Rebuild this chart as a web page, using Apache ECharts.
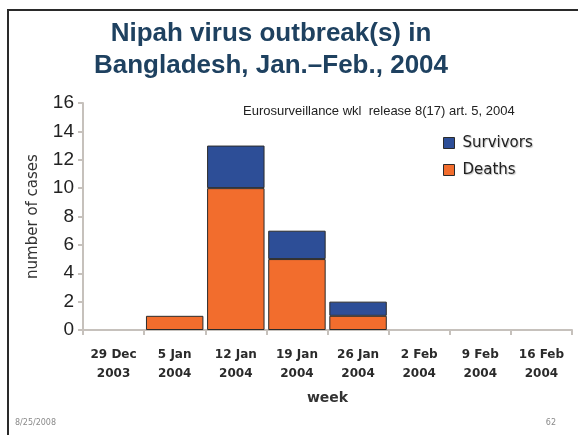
<!DOCTYPE html>
<html>
<head>
<meta charset="utf-8">
<script src="https://cdn.jsdelivr.net/npm/echarts@6/dist/echarts.min.js"></script>
<style>
  html, body { margin: 0; padding: 0; background: #fff; }
  #chart { width: 578px; height: 435px; }
</style>
</head>
<body>
<div id="chart"></div>
<script>
// Weekly Nipah virus cases, Bangladesh, Jan.–Feb. 2004
const weeks = ['29 Dec\n2003', '5 Jan\n2004', '12 Jan\n2004', '19 Jan\n2004',
               '26 Jan\n2004', '2 Feb\n2004', '9 Feb\n2004', '16 Feb\n2004'];
const deaths = [0, 1, 10, 5, 1, 0, 0, 0];
const survivors = [0, 0, 3, 2, 1, 0, 0, 0];
const yTicks = { min: 0, max: 16, interval: 2 };

const chart = echarts.init(document.getElementById('chart'), null, { renderer: 'canvas' });

const barStyle = (color) => ({ color: color, borderColor: '#2b2b2b', borderWidth: 1 });
// weeks without cases get no bar segment at all
const nonZero = (arr) => arr.map(v => (v === 0 ? '-' : v));

chart.setOption({
  animation: false,
  backgroundColor: '#ffffff',
  grid: { left: 83, right: 6, top: 103, bottom: 105, containLabel: false },
  legend: {
    data: ['Survivors', 'Deaths'],
    orient: 'vertical',
    left: 443,
    top: 134,
    padding: 0,
    itemWidth: 11,
    itemHeight: 11,
    itemGap: 9,
    icon: 'rect',
    itemStyle: { borderColor: '#2b2b2b', borderWidth: 1 },
    textStyle: {
      fontFamily: 'DejaVu Sans', fontSize: 15, color: '#222',
      lineHeight: 18, padding: [0, 0, 0, 3],
      textShadowColor: 'rgba(0,0,0,0.25)', textShadowOffsetX: 1, textShadowOffsetY: 1, textShadowBlur: 1
    }
  },
  xAxis: {
    type: 'category',
    data: weeks,
    name: 'week',
    nameLocation: 'middle',
    nameGap: 61,
    nameTextStyle: { fontFamily: 'DejaVu Sans', fontSize: 14, fontWeight: 'bold', color: '#333' },
    axisLine: { lineStyle: { color: '#c6c1bc', width: 2 } },
    axisTick: { show: true, alignWithLabel: false, length: 5, lineStyle: { color: '#c6c1bc', width: 2 } },
    axisLabel: {
      interval: 0, margin: 15, lineHeight: 19,
      fontFamily: 'DejaVu Sans', fontSize: 12, fontWeight: 'bold', color: '#2a2a2a'
    }
  },
  yAxis: {
    type: 'value',
    min: yTicks.min, max: yTicks.max, interval: yTicks.interval,
    name: 'number of cases',
    nameLocation: 'middle',
    nameGap: 42,
    nameRotate: 90,
    nameTextStyle: { fontFamily: 'DejaVu Sans', fontSize: 15, color: '#333' },
    splitLine: { show: false },
    axisLine: { show: true, lineStyle: { color: '#c6c1bc', width: 2 } },
    axisTick: { show: true, length: 5, lineStyle: { color: '#c6c1bc', width: 2 } },
    axisLabel: { margin: 9, fontFamily: 'Liberation Sans', fontSize: 19, color: '#222' }
  },
  series: [
    {
      name: 'Deaths', type: 'bar', stack: 'cases', data: nonZero(deaths),
      barCategoryGap: '6%',
      itemStyle: barStyle('#f26d2d')
    },
    {
      name: 'Survivors', type: 'bar', stack: 'cases', data: nonZero(survivors),
      barCategoryGap: '6%',
      itemStyle: barStyle('#2d4e97')
    }
  ],
  graphic: [
    // slide frame
    { type: 'polyline', shape: { points: [[8, 435], [8, 10], [578, 10]] },
      style: { stroke: '#2a2a2a', lineWidth: 2, fill: null }, silent: true },
    // heading
    { type: 'text', x: 271, y: 18,
      style: {
        text: 'Nipah virus outbreak(s) in\nBangladesh, Jan.–Feb., 2004',
        align: 'center', verticalAlign: 'top', lineHeight: 32,
        font: 'bold 26px "Liberation Sans", Arial, sans-serif',
        fill: '#1e4160',
        shadowColor: 'rgba(0,0,0,0.4)', shadowOffsetX: 2, shadowOffsetY: 2, shadowBlur: 2
      } },
    // source note
    { type: 'text', x: 243, y: 111,
      style: {
        text: 'Eurosurveillance wkl  release 8(17) art. 5, 2004',
        verticalAlign: 'middle',
        font: '13px "Liberation Sans", Arial, sans-serif', fill: '#222'
      } },
    // footer
    { type: 'text', x: 15, y: 423,
      style: { text: '8/25/2008', verticalAlign: 'middle',
        font: '8px "DejaVu Sans", sans-serif', fill: '#8a8a8a' } },
    { type: 'text', x: 556, y: 423,
      style: { text: '62', align: 'right', verticalAlign: 'middle',
        font: '8px "DejaVu Sans", sans-serif', fill: '#8a8a8a' } }
  ]
});
</script>
</body>
</html>
